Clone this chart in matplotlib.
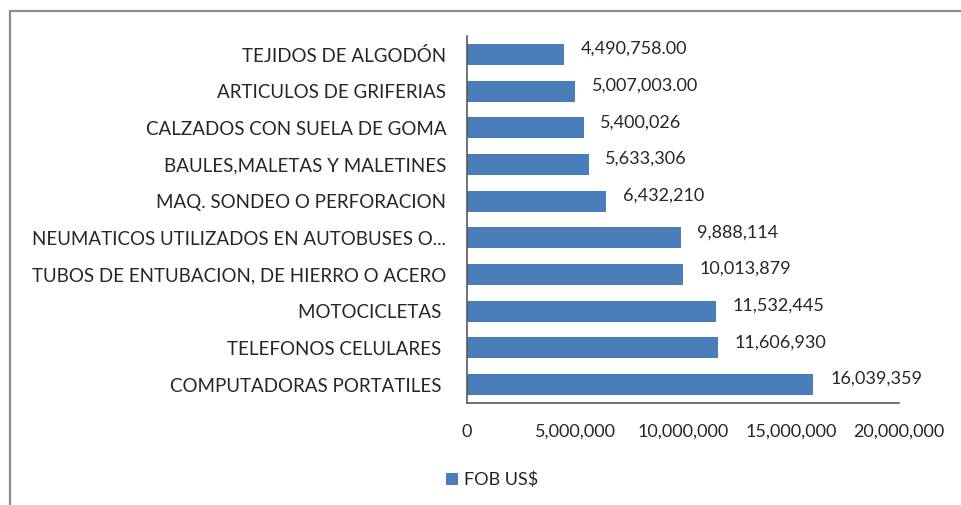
import numpy as np
import matplotlib
matplotlib.use("Agg")
import matplotlib.pyplot as plt
from matplotlib.patches import Rectangle
from matplotlib.ticker import FuncFormatter

# Datos (de arriba hacia abajo en el gráfico)
productos = [
    "TEJIDOS DE ALGODÓN",
    "ARTICULOS DE GRIFERIAS",
    "CALZADOS CON SUELA DE GOMA",
    "BAULES,MALETAS Y MALETINES",
    "MAQ. SONDEO O PERFORACION",
    "NEUMATICOS UTILIZADOS EN AUTOBUSES O...",
    "TUBOS DE ENTUBACION, DE HIERRO O ACERO",
    "MOTOCICLETAS ",
    "TELEFONOS CELULARES ",
    "COMPUTADORAS PORTATILES ",
]
fob = [4490758.00, 5007003.00, 5400026, 5633306, 6432210,
       9888114, 10013879, 11532445, 11606930, 16039359]
etiquetas = ["4,490,758.00", "5,007,003.00", "5,400,026", "5,633,306", "6,432,210",
             "9,888,114", "10,013,879", "11,532,445", "11,606,930", "16,039,359"]
ticks_x = [0, 5000000, 10000000, 15000000, 20000000]

plt.rcParams['font.family'] = ['Lato', 'DejaVu Sans']
texto = '#262626'
azul = '#4a7ebb'
fs = 13

fig = plt.figure(figsize=(9.62, 5.05), dpi=100)
ax = fig.add_axes([467 / 962, 1 - 403 / 505, (899 - 467) / 962, 367 / 505])

y = np.arange(len(productos))
ax.barh(y, fob, height=0.57, color=azul, label="FOB US$")
ax.set_ylim(len(productos) - 0.5, -0.5)
ax.set_xlim(0, 20000000)

for yi, v, t in zip(y, fob, etiquetas):
    ax.annotate(t, (v, yi), xytext=(12, 4), textcoords='offset points',
                va='center', ha='left', fontsize=fs, color=texto)

ax.set_yticks(y)
ax.set_yticklabels(productos, fontsize=13.5, color=texto)
ax.set_xticks(ticks_x)
ax.xaxis.set_major_formatter(FuncFormatter(lambda v, p: f"{int(v):,}"))
ax.tick_params(axis='x', length=0, pad=15, labelsize=fs, labelcolor=texto)
ax.tick_params(axis='y', length=0, pad=15)

for s in ['top', 'right']:
    ax.spines[s].set_visible(False)
for s in ['left', 'bottom']:
    ax.spines[s].set_color('#595959')
    ax.spines[s].set_linewidth(1.2)

ax.legend(loc='center', bbox_to_anchor=(492 / 962, 1 - 480 / 505),
          bbox_transform=fig.transFigure, frameon=False, fontsize=fs,
          handlelength=0.7, handleheight=0.7, handletextpad=0.3,
          labelcolor=texto)

# marco del gráfico
fig.patches.append(Rectangle((10 / 962, -0.1), 1.2, 1 - 11 / 505 + 0.1,
                             transform=fig.transFigure, fill=False,
                             edgecolor='#8c8c8c', linewidth=1.6))

fig.savefig("out.png", dpi=100)
